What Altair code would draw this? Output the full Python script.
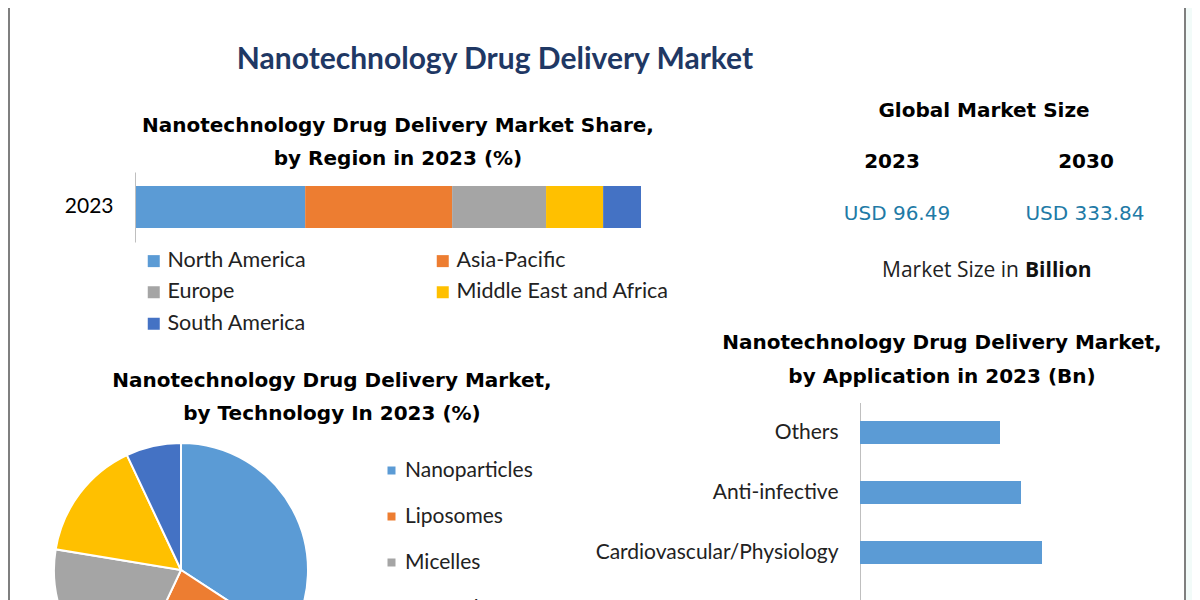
import altair as alt
import pandas as pd

# ---------------- data ----------------
MAIN_TITLE = "Nanotechnology Drug Delivery Market"

REGION_TITLE = ["Nanotechnology Drug Delivery Market Share,", "by Region in 2023 (%)"]
REGIONS = ["North America", "Asia-Pacific", "Europe", "Middle East and Africa", "South America"]
REGION_SHARE = [33.5, 29.1, 18.6, 11.3, 7.5]
REGION_YEAR = ["2023", "2023", "2023", "2023", "2023"]

TECH_TITLE = ["Nanotechnology Drug Delivery Market,", "by Technology In 2023 (%)"]
TECHS = ["Nanoparticles", "Liposomes", "Micelles", "Nanotubes", "Others"]
TECH_SHARE = [34.2, 22.8, 20.6, 15.4, 7.0]

SIZE_TITLE = "Global Market Size"
SIZE_YEARS = ["2023", "2030"]
SIZE_VALUES = ["USD 96.49", "USD 333.84"]
SIZE_NOTE = ["Market Size in", "Billion"]

APP_TITLE = ["Nanotechnology Drug Delivery Market,", "by Application in 2023 (Bn)"]
APPS = ["Others", "Anti-infective", "Cardiovascular/Physiology", "Oncology"]
APP_VALUES = [14.0, 16.1, 18.2, 17.3]

PALETTE = ["#5b9bd5", "#ed7d31", "#a5a5a5", "#ffc000", "#4472c4"]

region_df = pd.DataFrame({"region": REGIONS, "share": REGION_SHARE,
                          "year": REGION_YEAR, "idx": list(range(len(REGIONS)))})
tech_df = pd.DataFrame({"tech": TECHS, "share": TECH_SHARE, "idx": list(range(len(TECHS)))})
app_df = pd.DataFrame({"app": APPS, "value": APP_VALUES})

TITLE_FONT = "DejaVu Sans"
BODY_FONT = "Lato"


def label(text, x, y, size, font=TITLE_FONT, weight="bold", color="#000000", align="center"):
    return alt.Chart(pd.DataFrame({"t": [text]})).mark_text(
        font=font, fontSize=size, fontWeight=weight, color=color,
        align=align, baseline="middle"
    ).encode(text="t:N", x=alt.value(x), y=alt.value(y))


# ---------------- region stacked bar ----------------
region_bar = alt.Chart(region_df).mark_bar().encode(
    x=alt.X("share:Q", stack="zero",
            scale=alt.Scale(domain=[0, 100], range=[128, 633], nice=False, zero=True),
            axis=None),
    y=alt.Y("year:N",
            scale=alt.Scale(range=[164, 234], paddingInner=0, paddingOuter=1 / 3),
            axis=alt.Axis(orient="left", offset=-127, title=None, ticks=False,
                          domainColor="#bfbfbf", labelFont=BODY_FONT, labelFontSize=21,
                          labelColor="#000000", labelPadding=22, grid=False)),
    color=alt.Color("region:N",
                    scale=alt.Scale(domain=REGIONS, range=PALETTE),
                    legend=alt.Legend(title=None, orient="none", legendX=135, legendY=242,
                                      columns=2, direction="horizontal",
                                      symbolType="square", symbolSize=144,
                                      symbolStrokeWidth=0, labelFont=BODY_FONT,
                                      labelFontSize=21.5, labelColor="#222222",
                                      columnPadding=125, rowPadding=8.5, labelOffset=3,
                                      labelLimit=400)),
    order=alt.Order("idx:Q"),
)

# ---------------- technology pie ----------------
pie = alt.Chart(tech_df).mark_arc(radius=127, stroke="white", strokeWidth=2).encode(
    theta=alt.Theta("share:Q", stack=True),
    color=alt.Color("tech:N",
                    scale=alt.Scale(domain=TECHS, range=PALETTE),
                    legend=alt.Legend(title=None, orient="none", legendX=373, legendY=452,
                                      symbolType="square", symbolSize=64,
                                      symbolStrokeWidth=0, labelFont=BODY_FONT,
                                      labelFontSize=21, labelColor="#222222",
                                      rowPadding=24, labelOffset=3)),
    order=alt.Order("idx:Q"),
    x=alt.value(173),
    y=alt.value(562),
)

# ---------------- application bars ----------------
app_bar = alt.Chart(app_df).mark_bar(color="#5b9bd5").encode(
    x=alt.X("value:Q",
            scale=alt.Scale(domain=[0, 20], range=[852, 1052], nice=False, zero=True),
            axis=None),
    y=alt.Y("app:N", sort=APPS,
            scale=alt.Scale(range=[394.5, 634.5], paddingInner=0.617, paddingOuter=0.3085),
            axis=alt.Axis(orient="left", offset=-852, title=None, ticks=False,
                          domainColor="#bfbfbf", labelFont=BODY_FONT, labelFontSize=21,
                          labelColor="#222222", labelPadding=22, grid=False,
                          labelLimit=400)),
)

# ---------------- frame ----------------
frame_df = pd.DataFrame({"edge": ["left", "right"]})
left_line = alt.Chart(frame_df.iloc[:1]).mark_rule(color="#555555", strokeWidth=1.5).encode(
    x=alt.value(1), y=alt.value(0), y2=alt.value(592))
right_line = alt.Chart(frame_df.iloc[1:]).mark_rule(color="#555555", strokeWidth=1.5).encode(
    x=alt.value(1177), y=alt.value(0), y2=alt.value(592))
right_strip = alt.Chart(frame_df.iloc[1:]).mark_rect(color="#f2fbf9").encode(
    x=alt.value(1178), x2=alt.value(1184), y=alt.value(0), y2=alt.value(592))

texts = [
    label(MAIN_TITLE, 487, 52, 30, font=BODY_FONT, color="#1f3864"),
    label(REGION_TITLE[0], 390, 118, 20),
    label(REGION_TITLE[1], 390, 151, 20),
    label(TECH_TITLE[0], 324, 373, 20),
    label(TECH_TITLE[1], 324, 406, 20),
    label(APP_TITLE[0], 934, 335, 20),
    label(APP_TITLE[1], 934, 369, 20),
    label(SIZE_TITLE, 976, 103, 20),
    label(SIZE_YEARS[0], 884, 154, 20),
    label(SIZE_YEARS[1], 1078, 154, 20),
    label(SIZE_VALUES[0], 889, 206, 20, font="DejaVu Sans", weight="normal", color="#217aa6"),
    label(SIZE_VALUES[1], 1077, 206, 20, font="DejaVu Sans", weight="normal", color="#217aa6"),
    label(SIZE_NOTE[0], 1011, 263, 21, font="Open Sans", weight="normal", color="#222222", align="right"),
    label(SIZE_NOTE[1], 1017, 263, 21, font="Open Sans", weight="bold", color="#111111", align="left"),
]

chart = alt.layer(
    right_strip, left_line, right_line,
    region_bar, pie, app_bar, *texts
).resolve_scale(
    x="independent", y="independent", color="independent", theta="independent"
).resolve_legend(
    color="independent"
).properties(
    width=1184, height=592,
    autosize=alt.AutoSizeParams(type="none"),
    padding=0,
    background="white",
).configure_view(stroke=None)

chart.save("out.html", embed_options={"renderer": "svg", "actions": False})
